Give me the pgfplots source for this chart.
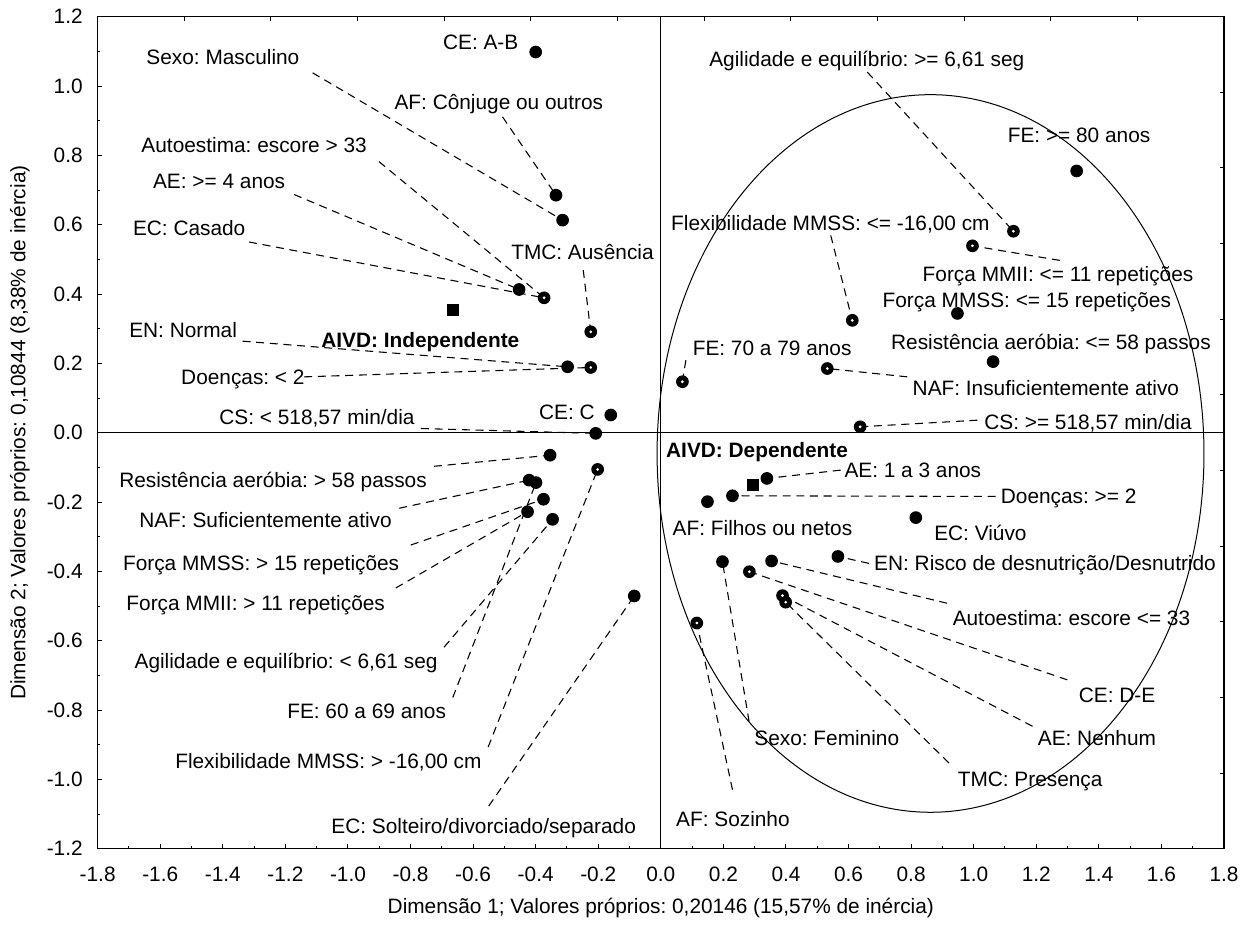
\documentclass[border=0pt]{standalone}
\usepackage{fontspec}
\setmainfont{Liberation Sans}
\usepackage{pgfplots}
\pgfplotsset{compat=1.18}
\newcommand\lf{\fontsize{12.5pt}{15pt}\selectfont}
\frenchspacing
\begin{document}
\begin{tikzpicture}
\tikzset{
  lbl/.style={anchor=west, inner sep=0pt, font=\lf, text height=9pt, text depth=0pt},
  lead/.style={black, line width=0.65pt, dash pattern=on 4.8pt off 3.4pt},
}
% frame ticks on top and right (own spacing)
\begin{axis}[
  at={(0,0)}, anchor=south west,
  scale only axis, width=675.8pt, height=499.2pt,
  xmin=-1.8, xmax=1.8, ymin=-1.2, ymax=1.2,
  axis line style={line width=0.8pt},
  xtick={-1.8,-1.523077,-1.246154,-0.969231,-0.692308,-0.415385,-0.138462,0.138462,0.415385,0.692308,0.969231,1.246154,1.523077,1.8},
  ytick={-1.2,-0.981818,-0.763636,-0.545455,-0.327273,-0.109091,0.109091,0.327273,0.545455,0.763636,0.981818,1.2},
  minor tick num=1,
  xtick pos=right, ytick pos=right,
  xticklabels={}, yticklabels={},
  major tick length=2.6pt, minor tick length=1.6pt,
  tick style={black, line width=0.6pt},
]
\end{axis}
\begin{axis}[
  at={(0,0)}, anchor=south west,
  scale only axis, width=675.8pt, height=499.2pt,
  xmin=-1.8, xmax=1.8, ymin=-1.2, ymax=1.2,
  clip=false,
  axis line style={line width=0.8pt},
  xtick={-1.8,-1.6,-1.4,-1.2,-1,-0.8,-0.6,-0.4,-0.2,0,0.2,0.4,0.6,0.8,1,1.2,1.4,1.6,1.8},
  ytick={-1.2,-1,-0.8,-0.6,-0.4,-0.2,0,0.2,0.4,0.6,0.8,1,1.2},
  minor tick num=1,
  xtick pos=left, ytick pos=left,
  major tick length=2.6pt, minor tick length=1.6pt,
  tick style={black, line width=0.6pt},
  /pgf/number format/assume math mode=true,
  /pgf/number format/.cd, fixed, fixed zerofill, precision=1, /pgfplots/.cd,
  tick label style={font=\lf},
  xticklabel style={anchor=center, yshift=-15.6pt},
  yticklabel style={anchor=east, inner sep=0pt, xshift=-8.8pt},
  xlabel={Dimensão 1; Valores próprios: 0,20146 (15,57\% de inércia)},
  ylabel={Dimensão 2; Valores próprios: 0,10844 (8,38\% de inércia)},
  label style={font=\lf},
  xlabel style={at={(axis description cs:0.5,-0.0709)}, anchor=center},
  ylabel style={at={(axis description cs:-0.069,0.5)}, anchor=center},
]
% zero lines
\addplot[black, line width=0.6pt] coordinates {(-1.8,0) (1.8,0)};
\addplot[black, line width=0.6pt] coordinates {(0,-1.2) (0,1.2)};
% ellipse
\draw[black, line width=0.6pt] (axis cs:0.862,-0.060) ellipse [x radius=0.874, y radius=1.035];

% leader lines (label end -> point)
\addplot[lead] coordinates {(-1.113,1.038) (-0.314,0.613)};
\addplot[lead] coordinates {(-0.506,0.911) (-0.335,0.685)};
\addplot[lead] coordinates {(-0.901,0.782) (-0.373,0.389)};
\addplot[lead] coordinates {(-1.172,0.687) (-0.453,0.413)};
\addplot[lead] coordinates {(-1.316,0.550) (-0.373,0.389)};
\addplot[lead] coordinates {(-0.248,0.469) (-0.224,0.291)};
\addplot[lead] coordinates {(-1.337,0.264) (-0.298,0.190)};
\addplot[lead] coordinates {(-1.140,0.161) (-0.224,0.188)};
\addplot[lead] coordinates {(-0.767,0.012) (-0.208,-0.002)};
\addplot[lead] coordinates {(-0.725,-0.097) (-0.354,-0.065)};
\addplot[lead] coordinates {(-0.836,-0.218) (-0.421,-0.137)};
\addplot[lead] coordinates {(-0.799,-0.324) (-0.375,-0.192)};
\addplot[lead] coordinates {(-0.847,-0.448) (-0.426,-0.228)};
\addplot[lead] coordinates {(-0.693,-0.619) (-0.346,-0.250)};
\addplot[lead] coordinates {(-0.665,-0.764) (-0.399,-0.144)};
\addplot[lead] coordinates {(-0.552,-0.907) (-0.202,-0.106)};
\addplot[lead] coordinates {(-0.550,-1.077) (-0.085,-0.471)};
\addplot[lead] coordinates {(0.660,1.040) (1.127,0.581)};
\addplot[lead] coordinates {(0.543,0.569) (0.612,0.324)};
\addplot[lead] coordinates {(1.275,0.497) (0.996,0.539)};
\addplot[lead] coordinates {(0.080,0.209) (0.069,0.147)};
\addplot[lead] coordinates {(0.788,0.161) (0.532,0.185)};
\addplot[lead] coordinates {(1.012,0.036) (0.637,0.017)};
\addplot[lead] coordinates {(0.575,-0.108) (0.339,-0.132)};
\addplot[lead] coordinates {(1.070,-0.184) (0.229,-0.182)};
\addplot[lead] coordinates {(0.665,-0.377) (0.566,-0.357)};
\addplot[lead] coordinates {(0.915,-0.492) (0.354,-0.370)};
\addplot[lead] coordinates {(1.299,-0.713) (0.283,-0.401)};
\addplot[lead] coordinates {(1.188,-0.847) (0.389,-0.470)};
\addplot[lead] coordinates {(0.921,-0.953) (0.399,-0.489)};
\addplot[lead] coordinates {(0.282,-0.833) (0.197,-0.372)};
\addplot[lead] coordinates {(0.229,-1.030) (0.115,-0.549)};

% category points
\addplot[only marks, mark=*, mark size=3.5pt, black, line width=0.6pt] coordinates {
 (-0.400,1.098) (-0.335,0.685) (-0.314,0.613) (-0.453,0.413) (-0.298,0.190)
 (-0.208,-0.002) (-0.160,0.051) (-0.354,-0.065) (-0.421,-0.137) (-0.399,-0.144)
 (-0.375,-0.192) (-0.426,-0.228) (-0.346,-0.250) (-0.085,-0.471)
 (1.329,0.755) (0.948,0.344) (1.062,0.205) (0.339,-0.132) (0.229,-0.182)
 (0.149,-0.199) (0.815,-0.245) (0.566,-0.357) (0.197,-0.372) (0.354,-0.370)
};
\addplot[only marks, mark=*, mark size=3.5pt, black, line width=0.6pt] coordinates {
 (-0.373,0.389) (-0.224,0.291) (-0.224,0.188) (-0.202,-0.106)
 (1.127,0.581) (0.612,0.324) (0.996,0.539) (0.532,0.185) (0.069,0.147)
 (0.637,0.017) (0.283,-0.401) (0.389,-0.470) (0.399,-0.489) (0.115,-0.549)
};
\addplot[only marks, mark=*, mark size=0.6pt, white, draw=none] coordinates {
 (-0.373,0.389) (-0.224,0.291) (-0.224,0.188) (-0.202,-0.106)
 (1.127,0.581) (0.612,0.324) (0.996,0.539) (0.532,0.185) (0.069,0.147)
 (0.637,0.017) (0.283,-0.401) (0.389,-0.470) (0.399,-0.489) (0.115,-0.549)
};
% AIVD points
\addplot[only marks, mark=square*, mark size=3.4pt, black] coordinates {
 (-0.664,0.354) (0.293,-0.151)
};

% labels
\node[lbl] at (axis cs:-0.697,1.127) {CE: A-B};
\node[lbl] at (axis cs:-1.645,1.084) {Sexo: Masculino};
\node[lbl] at (axis cs:-0.852,0.954) {AF: Cônjuge ou outros};
\node[lbl] at (axis cs:-1.661,0.829) {Autoestima: escore > 33};
\node[lbl] at (axis cs:-1.624,0.725) {AE: >= 4 anos};
\node[lbl] at (axis cs:-1.688,0.589) {EC: Casado};
\node[lbl] at (axis cs:-0.479,0.522) {TMC: Ausência};
\node[lbl] at (axis cs:-1.700,0.296) {EN: Normal};
\node[lbl] at (axis cs:-1.086,0.267) {\bfseries AIVD: Independente};
\node[lbl] at (axis cs:-1.534,0.161) {Doenças: < 2};
\node[lbl] at (axis cs:-1.412,0.046) {CS: < 518,57 min/dia};
\node[lbl] at (axis cs:-0.390,0.061) {CE: C};
\node[lbl] at (axis cs:-1.732,-0.137) {Resistência aeróbia: > 58 passos};
\node[lbl] at (axis cs:-1.668,-0.252) {NAF: Suficientemente ativo};
\node[lbl] at (axis cs:-1.720,-0.377) {Força MMSS: > 15 repetições};
\node[lbl] at (axis cs:-1.709,-0.492) {Força MMII: > 11 repetições};
\node[lbl] at (axis cs:-1.683,-0.660) {Agilidade e equilíbrio: < 6,61 seg};
\node[lbl] at (axis cs:-1.195,-0.802) {FE: 60 a 69 anos};
\node[lbl] at (axis cs:-1.553,-0.946) {Flexibilidade MMSS: > -16,00 cm};
\node[lbl] at (axis cs:-1.054,-1.135) {EC: Solteiro/divorciado/separado};
\node[lbl] at (axis cs:0.154,1.079) {Agilidade e equilíbrio: >= 6,61 seg};
\node[lbl] at (axis cs:1.108,0.860) {FE: >= 80 anos};
\node[lbl] at (axis cs:0.032,0.606) {Flexibilidade MMSS: <= -16,00 cm};
\node[lbl] at (axis cs:0.836,0.459) {Força MMII: <= 11 repetições};
\node[lbl] at (axis cs:0.708,0.382) {Força MMSS: <= 15 repetições};
\node[lbl] at (axis cs:0.735,0.262) {Resistência aeróbia: <= 58 passos};
\node[lbl] at (axis cs:0.101,0.245) {FE: 70 a 79 anos};
\node[lbl] at (axis cs:0.804,0.128) {NAF: Insuficientemente ativo};
\node[lbl] at (axis cs:1.033,0.032) {CS: >= 518,57 min/dia};
\node[lbl] at (axis cs:0.016,-0.050) {\bfseries AIVD: Dependente};
\node[lbl] at (axis cs:0.586,-0.108) {AE: 1 a 3 anos};
\node[lbl] at (axis cs:1.086,-0.184) {Doenças: >= 2};
\node[lbl] at (axis cs:0.037,-0.276) {AF: Filhos ou netos};
\node[lbl] at (axis cs:0.873,-0.290) {EC: Viúvo};
\node[lbl] at (axis cs:0.681,-0.377) {EN: Risco de desnutrição/Desnutrido};
\node[lbl] at (axis cs:0.932,-0.535) {Autoestima: escore <= 33};
\node[lbl] at (axis cs:1.335,-0.758) {CE: D-E};
\node[lbl] at (axis cs:1.204,-0.881) {AE: Nenhum};
\node[lbl] at (axis cs:0.948,-0.999) {TMC: Presença};
\node[lbl] at (axis cs:0.298,-0.881) {Sexo: Feminino};
\node[lbl] at (axis cs:0.048,-1.115) {AF: Sozinho};
\end{axis}
\pgfresetboundingbox
\path (-58.6pt,-45.6pt) rectangle (693.2pt,509.2pt);
\end{tikzpicture}
\end{document}
